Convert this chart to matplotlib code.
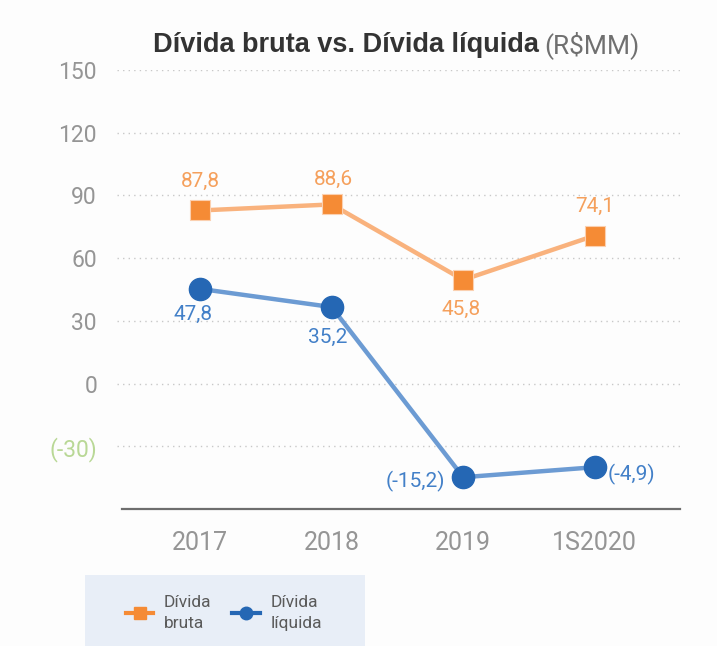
import matplotlib
matplotlib.use("Agg")
import matplotlib.pyplot as plt
from matplotlib.patches import Rectangle
from matplotlib.lines import Line2D

# ---- data ----
categories = ["2017", "2018", "2019", "1S2020"]
bruta_values = [82.8, 85.7, 49.6, 70.8]        # plotted positions as drawn
liquida_values = [45.3, 36.6, -44.8, -40.0]
bruta_labels = ["87,8", "88,6", "45,8", "74,1"]
liquida_labels = ["47,8", "35,2", "(-15,2)", "(-4,9)"]
y_ticks = [150, 120, 90, 60, 30, 0, -30]
y_tick_labels = ["150", "120", "90", "60", "30", "0", "(-30)"]

plt.rcParams["font.family"] = ["Roboto", "DejaVu Sans"]

fig = plt.figure(figsize=(7.17, 6.46), dpi=100, facecolor="#fdfdfd")
ax = fig.add_axes([117/717, 1-509/646, 566/717, (509-70)/646])
ax.set_facecolor("#fdfdfd")

x = list(range(len(categories)))
orange_line, orange_mk, orange_txt = "#f9b27d", "#f58b35", "#f5a05c"
blue_line, blue_mk, blue_txt = "#6c9bd3", "#2567b4", "#4380c8"

ax.plot(x, bruta_values, color=orange_line, lw=3.2, zorder=3)
ax.plot(x, bruta_values, ls="none", marker="s", ms=15, color=orange_mk,
        mec="#fbd0b0", mew=0.8, zorder=4)
ax.plot(x, liquida_values, color=blue_line, lw=3.2, zorder=3)
ax.plot(x, liquida_values, ls="none", marker="o", ms=16, color=blue_mk,
        mec=blue_mk, zorder=4)

ax.set_xlim(-0.631, 3.670)
ax.set_ylim(-60, 150)
ax.set_yticks(y_ticks)
ax.set_yticklabels(y_tick_labels)
ax.set_xticks(x)
ax.set_xticklabels(categories)
ax.tick_params(axis="y", length=0, pad=14.4, labelsize=16.5, labelcolor="#959595")
ax.tick_params(axis="x", length=0, pad=16, labelsize=18, labelcolor="#959595")
ax.get_yticklabels()[-1].set_color("#b9d896")

for s in ax.spines.values():
    s.set_visible(False)
for yv in y_ticks:
    ax.axhline(yv, color="#c8c8c8", lw=1, ls=(0, (1, 3)), zorder=1)
ax.axhline(-60, xmin=5/566, xmax=563/566, color="#6e6e6e", lw=1.6, clip_on=False, zorder=2)

# data labels
b_off = [(0, 21, "center"), (1.5, 18, "center"), (-1.5, -21.6, "center"), (0, 21, "center")]
for i, (dx, dy, ha) in enumerate(b_off):
    ax.annotate(bruta_labels[i], (x[i], bruta_values[i]), xytext=(dx, dy),
                textcoords="offset points", ha=ha, va="center",
                fontsize=15, color=orange_txt)
l_off = [(-5, -18.7, "center"), (-3, -21.6, "center"), (-13, -3, "right"), (9.4, -5, "left")]
for i, (dx, dy, ha) in enumerate(l_off):
    ax.annotate(liquida_labels[i], (x[i], liquida_values[i]), xytext=(dx, dy),
                textcoords="offset points", ha=ha, va="center",
                fontsize=15, color=blue_txt)

# title
t1 = fig.text(153/717, 1-45/646, "Dívida bruta vs. Dívida líquida", fontsize=19.5,
              fontweight="bold", color="#333333", ha="left", va="center",
              family=["Liberation Sans", "DejaVu Sans"])
fig.canvas.draw()
bb = t1.get_window_extent()
fig.text((bb.x1 + 5)/717, 1-45/646, "(R$MM)", fontsize=19, color="#707070",
         ha="left", va="center")

# legend box
fig.patches.append(Rectangle((85/717, 0), 280/717, 71/646, transform=fig.transFigure,
                             facecolor="#e8eef7", edgecolor="none", zorder=0))
handles = [
    Line2D([], [], color=orange_mk, lw=3, marker="s", ms=9, mec=orange_mk),
    Line2D([], [], color=blue_mk, lw=3, marker="o", ms=9, mec=blue_mk),
]
leg = fig.legend(handles, ["Dívida\nbruta", "Dívida\nlíquida"], loc="center left",
                 bbox_to_anchor=(110/717, 1-613/646), ncol=2, frameon=False,
                 fontsize=12.5, handlelength=1.6, handletextpad=0.6,
                 columnspacing=1.2, labelcolor="#5a5a5a")
for t in leg.get_texts():
    t.set_linespacing(1.55)

fig.savefig("out.png", dpi=100, facecolor=fig.get_facecolor())
